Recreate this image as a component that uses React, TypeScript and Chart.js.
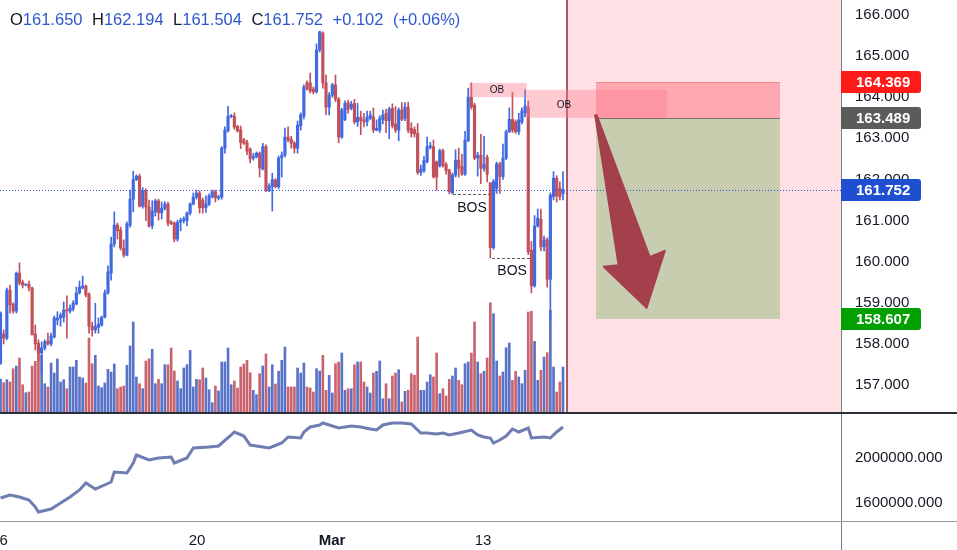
import React, { useEffect, useRef } from 'react';
import { Chart, registerables } from 'chart.js';

Chart.register(...registerables);

// ---- candle data (4h bars, index 0..178) ----
const OPEN = [
  157.53, 158.24, 158.14, 159.31, 158.97, 158.80, 159.72, 159.50, 159.43, 159.45,
  159.36, 158.24, 158.02, 157.78, 157.90, 158.07, 158.00, 158.17, 158.58, 158.63,
  158.65, 158.83, 158.80, 158.85, 158.97, 159.24, 159.36, 159.41, 159.21, 158.43,
  158.34, 158.40, 158.46, 158.65, 159.24, 159.72, 160.43, 160.89, 160.77, 160.33,
  160.16, 160.89, 161.52, 162.00, 162.08, 161.35, 161.72, 161.33, 160.87, 161.21,
  161.48, 161.19, 161.30, 161.40, 160.96, 160.94, 160.55, 160.96, 161.00, 161.00,
  161.18, 161.40, 161.57, 161.67, 161.50, 161.31, 161.40, 161.57, 161.70, 161.55,
  161.57, 162.76, 163.18, 163.53, 163.54, 163.29, 163.20, 162.96, 162.90, 162.74,
  162.52, 162.55, 162.64, 162.25, 162.80, 161.74, 161.82, 161.99, 161.82, 162.52,
  162.59, 163.03, 162.98, 162.88, 162.76, 163.30, 163.54, 164.35, 164.35, 164.20,
  164.13, 165.15, 165.56, 164.35, 163.76, 164.05, 164.30, 163.95, 163.03, 163.46,
  163.87, 163.73, 163.85, 163.40, 163.51, 163.45, 163.40, 163.49, 163.52, 163.20,
  163.20, 163.46, 163.61, 163.43, 163.73, 163.35, 163.20, 163.69, 163.49, 163.76,
  163.24, 163.21, 163.12, 162.17, 162.21, 162.43, 162.78, 162.80, 162.43, 162.33,
  162.70, 162.37, 162.23, 161.67, 162.11, 162.47, 162.32, 162.13, 162.94, 164.00,
  163.81, 162.52, 162.59, 162.27, 162.54, 161.92, 160.34, 161.78, 162.38, 162.07,
  162.52, 163.16, 163.46, 163.40, 163.16, 163.40, 163.62, 163.75, 160.28, 159.41,
  160.87, 161.03, 160.36, 160.53, 159.57, 161.58, 162.03, 161.79, 161.65,
];
const HIGH = [
  158.78, 158.34, 159.36, 159.43, 159.00, 159.75, 159.97, 159.55, 159.46, 159.53,
  159.38, 158.46, 158.10, 158.05, 158.10, 158.26, 158.26, 158.68, 158.78, 158.75,
  159.02, 159.17, 158.95, 159.05, 159.38, 159.53, 159.65, 159.43, 159.24, 158.53,
  158.99, 158.63, 158.68, 159.31, 159.90, 160.60, 161.21, 160.94, 160.84, 160.53,
  160.97, 161.74, 162.20, 162.11, 162.13, 161.80, 161.77, 161.50, 161.48, 161.52,
  161.52, 161.45, 161.46, 161.45, 161.00, 160.97, 161.01, 161.06, 161.09, 161.21,
  161.43, 161.67, 161.74, 161.72, 161.55, 161.60, 161.65, 161.74, 161.74, 161.62,
  162.80, 163.28, 163.78, 163.58, 163.62, 163.32, 163.30, 163.00, 162.96, 162.77,
  162.64, 162.67, 162.67, 162.88, 162.84, 161.90, 162.15, 162.02, 162.57, 162.67,
  163.25, 163.28, 163.05, 162.93, 163.42, 163.62, 164.30, 164.40, 164.59, 164.25,
  165.30, 165.61, 165.59, 164.54, 164.11, 164.34, 164.54, 164.00, 163.73, 163.91,
  163.93, 163.90, 163.95, 163.85, 163.66, 163.61, 163.66, 163.66, 163.74, 163.45,
  163.55, 163.69, 163.71, 163.76, 163.84, 163.77, 163.74, 163.87, 163.87, 163.88,
  163.38, 163.28, 163.36, 162.35, 162.56, 163.03, 162.90, 162.96, 162.45, 162.74,
  162.74, 162.41, 162.25, 162.16, 162.72, 162.76, 162.61, 163.17, 164.22, 164.35,
  163.86, 162.66, 163.10, 163.05, 162.59, 161.92, 162.00, 162.42, 162.42, 162.86,
  163.20, 163.74, 164.12, 163.45, 163.61, 163.74, 164.18, 163.91, 160.49, 161.12,
  161.28, 161.28, 160.62, 160.58, 161.67, 162.19, 162.09, 161.94, 162.194,
];
const LOW = [
  157.50, 158.00, 158.10, 158.75, 158.75, 158.75, 159.43, 159.36, 159.41, 159.29,
  158.22, 157.85, 157.56, 157.29, 157.85, 157.97, 157.95, 158.14, 158.46, 158.43,
  158.53, 158.14, 158.75, 158.80, 158.95, 159.21, 159.34, 159.14, 158.26, 158.19,
  158.26, 158.26, 158.43, 158.63, 159.21, 159.55, 160.36, 160.55, 160.28, 160.11,
  160.14, 160.84, 161.21, 161.97, 161.33, 161.30, 161.00, 160.84, 160.80, 161.11,
  161.01, 161.04, 161.26, 160.87, 160.90, 160.48, 160.50, 160.75, 160.94, 160.87,
  161.14, 161.38, 161.52, 161.18, 161.18, 161.20, 161.36, 161.55, 161.45, 161.50,
  161.52, 162.64, 163.15, 163.50, 163.22, 163.15, 162.75, 162.85, 162.60, 162.40,
  162.47, 162.52, 162.06, 162.23, 161.70, 161.70, 161.23, 161.80, 161.77, 162.06,
  162.55, 162.91, 162.76, 162.64, 162.64, 163.20, 163.47, 164.17, 164.10, 164.08,
  164.10, 165.10, 164.22, 163.57, 163.57, 164.00, 163.89, 162.89, 163.00, 163.43,
  163.61, 163.69, 163.35, 163.29, 163.09, 163.28, 163.30, 163.45, 163.14, 163.18,
  163.14, 163.35, 163.14, 162.99, 163.25, 163.14, 162.94, 163.43, 163.43, 163.14,
  163.03, 163.03, 162.12, 162.10, 162.17, 162.40, 162.74, 162.03, 161.74, 162.30,
  162.30, 162.13, 161.65, 161.65, 162.06, 162.06, 162.10, 162.10, 162.92, 163.71,
  162.48, 162.08, 161.90, 162.20, 161.94, 160.09, 160.30, 161.66, 161.66, 162.00,
  162.48, 163.14, 163.14, 163.12, 163.09, 163.35, 163.52, 160.17, 159.24, 159.38,
  160.84, 160.26, 160.26, 159.38, 158.58, 161.50, 161.45, 161.50, 161.504,
];
const CLOSE = [
  158.75, 158.14, 159.31, 158.95, 158.80, 159.72, 159.48, 159.43, 159.44, 159.36,
  158.22, 158.00, 157.78, 157.90, 158.05, 158.00, 158.19, 158.63, 158.63, 158.70,
  158.82, 158.80, 158.87, 158.99, 159.24, 159.38, 159.41, 159.19, 158.43, 158.34,
  158.43, 158.48, 158.65, 159.24, 159.75, 160.43, 160.89, 160.75, 160.33, 160.16,
  160.92, 161.52, 162.00, 162.08, 161.35, 161.72, 161.33, 160.87, 161.23, 161.48,
  161.19, 161.30, 161.40, 160.94, 160.92, 160.55, 160.96, 161.01, 161.04, 161.18,
  161.40, 161.57, 161.67, 161.31, 161.31, 161.40, 161.60, 161.70, 161.55, 161.57,
  162.76, 163.20, 163.54, 163.55, 163.27, 163.18, 162.90, 162.88, 162.69, 162.50,
  162.56, 162.64, 162.28, 162.80, 161.74, 161.84, 161.99, 161.82, 162.52, 162.59,
  163.03, 162.96, 162.88, 162.76, 163.32, 163.57, 164.25, 164.20, 164.15, 164.13,
  165.15, 165.59, 164.35, 163.76, 164.05, 164.30, 163.95, 163.03, 163.69, 163.85,
  163.71, 163.83, 163.40, 163.51, 163.43, 163.40, 163.52, 163.57, 163.20, 163.24,
  163.49, 163.57, 163.43, 163.71, 163.30, 163.20, 163.69, 163.46, 163.76, 163.20,
  163.12, 163.11, 162.17, 162.25, 162.46, 162.80, 162.82, 162.06, 162.06, 162.70,
  162.33, 162.21, 161.70, 162.11, 162.47, 162.27, 162.13, 162.96, 164.00, 163.76,
  162.52, 162.59, 162.27, 162.37, 162.13, 160.34, 161.95, 162.38, 162.07, 162.52,
  163.16, 163.46, 163.20, 163.16, 163.45, 163.67, 163.79, 160.24, 159.41, 160.87,
  161.06, 160.36, 160.53, 159.57, 161.62, 162.03, 161.60, 161.58, 161.752,
];
const VOLUME = [
  3300, 2930, 3230, 3000, 4330, 4600, 5400, 2730, 1930, 2000,
  4600, 5070, 6600, 5670, 2830, 2500, 4900, 3900, 5300, 3000,
  3230, 2330, 4500, 4500, 5170, 3500, 3400, 2900, 7400, 4830,
  5670, 2600, 2430, 2900, 4270, 4000, 4800, 2330, 2500, 2600,
  4670, 6600, 9000, 3500, 2830, 2330, 5100, 5330, 6270, 2830,
  3270, 2830, 4730, 4730, 6400, 4100, 3100, 2330, 4400, 4730,
  6170, 2500, 3270, 3230, 4400, 3400, 2230, 930, 2600, 2100,
  5000, 5000, 6400, 2730, 3100, 2400, 4500, 4800, 5170, 3930,
  2170, 1730, 3830, 4600, 5800, 2500, 4730, 2800, 4070, 5170,
  6500, 2500, 2500, 2500, 4400, 3900, 4900, 2500, 2400, 2000,
  4330, 4100, 5670, 2170, 3670, 1900, 4830, 5000, 5900, 2170,
  2330, 2330, 4730, 5000, 5000, 3000, 2500, 1900, 3900, 4070,
  5100, 1330, 2830, 1330, 3600, 3900, 4230, 1000, 2070, 2170,
  3830, 3670, 7500, 2170, 2170, 3000, 3730, 3500, 5900, 1830,
  2330, 1600, 3270, 3600, 4400, 3170, 2730, 4830, 5000, 5900,
  9000, 5000, 3830, 4070, 5400, 10930, 9830, 5100, 3600, 4000,
  6430, 6900, 3170, 4070, 3500, 2830, 4170, 10000, 10070, 7070,
  3170, 4170, 5500, 5930, 10170, 4500, 2000, 3000, 4500,
];

// ---- lower pane indicator (sampled) ----
const IND_K = [
  0, 3, 6, 9, 11, 12, 16, 19, 22, 25, 27, 30, 35, 36, 40, 42, 43, 47, 50, 54,
  55, 59, 61, 66, 69, 73, 74, 77, 79, 83, 85, 89, 91, 95, 96, 98, 101, 102, 104, 107,
  111, 114, 117, 119, 121, 124, 127, 130, 133, 135, 138, 140, 142, 145, 149, 151, 153, 155, 156, 158,
  160, 162, 164, 167, 168, 172, 174, 176, 178,
];
const IND_V = [
  1640000, 1666700, 1648900, 1622200, 1560000, 1515600, 1542200, 1595600, 1648900, 1711100,
  1773300, 1720000, 1782200, 1871100, 1862200, 1951100, 2022200, 1977800, 1995600, 2004400,
  1951100, 1995600, 2084400, 2093300, 2102200, 2200000, 2226700, 2191100, 2111100, 2093300,
  2084400, 2128900, 2182200, 2173300, 2226700, 2271100, 2288900, 2306700, 2288900, 2262200,
  2280000, 2271100, 2253300, 2244400, 2288900, 2306700, 2306700, 2297800, 2217800, 2217800,
  2208900, 2217800, 2200000, 2217800, 2244400, 2200000, 2182200, 2173300, 2128900, 2155600,
  2191100, 2253300, 2226700, 2262200, 2173300, 2182200, 2173300, 2226700, 2271100,
];

// ---- axes ----
const X_MIN = -0.165;
const X_MAX = 265.97;
const PRICE_MIN = 156.343;
const PRICE_MAX = 166.365;
const PRICE_TICKS = [157, 158, 159, 160, 161, 162, 163, 164, 165, 166];
const VOL_MAX = 41200;
const IND_MIN = 1435550;
const IND_MAX = 2386700;
const IND_TICKS = [1600000, 2000000];
const TIME_TICK_POS = [1.0, 62.2, 104.9, 152.7];
const TIME_TICK_LABELS = ['6', '20', 'Mar', '13'];

// ---- header ----
const HEADER_LABELS = ['O', 'H', 'L', 'C'];
const HEADER_VALUES = ['161.650', '162.194', '161.504', '161.752'];
const HEADER_CHANGE = '+0.102';
const HEADER_PCT = '(+0.06%)';

// ---- price tags ----
const LAST_PRICE = 161.752;
const TAG_PRICES = [164.369, 163.489, 161.752, 158.607];
const TAG_COLORS = ['#ff1a1a', '#5b5b5b', '#1f4ed0', '#00a000'];

// ---- drawings ----
const ZONE_START = 179.27;
const OB_K_START = [148.3, 166.6];
const OB_K_END = [166.6, 210.9];
const OB_TOP = [164.35, 164.18];
const OB_BOTTOM = [164.0, 163.5];
const OB_TEXT_K = [157.1, 178.3];
const OB_TEXT_P = [164.175, 163.81];
const POS_K = [188.44, 246.67];
const STOP = 164.369;
const ENTRY = 163.489;
const TARGET = 158.607;
const BOS_K_START = [143.2, 155.5];
const BOS_K_END = [155.5, 167.6];
const BOS_LEVEL = [161.65, 160.09];
const BOS_TEXT_K = [149.2, 161.9];
const BOS_TEXT_P = [161.3, 159.77];
const ARROW_K = [188.1, 195.5, 190.8, 204.5, 210.3, 205.5, 188.7];
const ARROW_P = [163.57, 159.92, 159.88, 158.87, 160.27, 160.12, 163.57];

const UP = '#4169e1';
const DOWN = '#c2505b';
const VOL_UP = '#5873c8';
const VOL_DOWN = '#c9646f';
const FONT = '"Liberation Sans", Arial, sans-serif';
const TEXT = '#131722';
const AXIS_LINE = '#787b86';

function noPad(s: any) {
  s.paddingTop = 0;
  s.paddingBottom = 0;
  s.paddingLeft = 0;
  s.paddingRight = 0;
}

function mainPlugin() {
  return {
    id: 'mainDecor',
    beforeDatasetsDraw(chart: any) {
      const { ctx, chartArea: a, scales } = chart;
      const x = scales.x;
      ctx.save();
      const zx = x.getPixelForValue(ZONE_START);
      ctx.fillStyle = '#ffe1e5';
      ctx.fillRect(zx, a.top, a.right - zx, a.bottom - a.top);
      ctx.fillStyle = '#a95a66';
      ctx.fillRect(Math.round(zx) - 1, a.top, 2, a.bottom - a.top);
      ctx.restore();
    },
    afterDatasetsDraw(chart: any) {
      const { ctx, chartArea: a, scales } = chart;
      const x = scales.x;
      const y = scales.y;
      const px = (k: number) => x.getPixelForValue(k);
      const py = (p: number) => y.getPixelForValue(p);
      ctx.save();
      ctx.beginPath();
      ctx.rect(a.left, a.top, a.right - a.left, a.bottom - a.top);
      ctx.clip();
      const x0 = px(POS_K[0]);
      const x1 = px(POS_K[1]);
      ctx.fillStyle = '#c9cdb0';
      ctx.fillRect(x0, py(ENTRY), x1 - x0, py(TARGET) - py(ENTRY));
      ctx.fillStyle = 'rgba(255,100,112,0.45)';
      ctx.fillRect(x0, py(STOP), x1 - x0, py(ENTRY) - py(STOP));
      for (let i = 0; i < OB_K_START.length; i++) {
        const bx0 = px(OB_K_START[i]);
        const bx1 = px(OB_K_END[i]);
        ctx.fillStyle = 'rgba(250,122,140,0.4)';
        ctx.fillRect(bx0, py(OB_TOP[i]), bx1 - bx0, py(OB_BOTTOM[i]) - py(OB_TOP[i]));
      }
      ctx.lineWidth = 1;
      ctx.strokeStyle = '#ef8a8a';
      ctx.beginPath();
      ctx.moveTo(x0, Math.round(py(STOP)) + 0.5);
      ctx.lineTo(x1, Math.round(py(STOP)) + 0.5);
      ctx.stroke();
      ctx.strokeStyle = '#7d6f6f';
      ctx.beginPath();
      ctx.moveTo(x0, Math.round(py(ENTRY)) + 0.5);
      ctx.lineTo(x1, Math.round(py(ENTRY)) + 0.5);
      ctx.stroke();
      ctx.strokeStyle = '#3655cc';
      ctx.setLineDash([1, 2]);
      const ly = Math.round(py(LAST_PRICE)) + 0.5;
      ctx.beginPath();
      ctx.moveTo(a.left, ly);
      ctx.lineTo(a.right, ly);
      ctx.stroke();
      ctx.strokeStyle = '#5d5d5d';
      ctx.setLineDash([3, 2]);
      for (let i = 0; i < BOS_LEVEL.length; i++) {
        const yy = Math.round(py(BOS_LEVEL[i])) + 0.5;
        ctx.beginPath();
        ctx.moveTo(px(BOS_K_START[i]), yy);
        ctx.lineTo(px(BOS_K_END[i]), yy);
        ctx.stroke();
      }
      ctx.setLineDash([]);
      ctx.fillStyle = TEXT;
      ctx.textAlign = 'center';
      ctx.textBaseline = 'middle';
      ctx.font = `14px ${FONT}`;
      for (let i = 0; i < BOS_TEXT_K.length; i++) {
        ctx.fillText('BOS', px(BOS_TEXT_K[i]), py(BOS_TEXT_P[i]));
      }
      ctx.font = `10px ${FONT}`;
      for (let i = 0; i < OB_TEXT_K.length; i++) {
        ctx.fillText('OB', px(OB_TEXT_K[i]), py(OB_TEXT_P[i]));
      }
      ctx.fillStyle = '#a3404b';
      ctx.strokeStyle = '#a3404b';
      ctx.lineJoin = 'round';
      ctx.lineWidth = 1.5;
      ctx.beginPath();
      for (let i = 0; i < ARROW_K.length; i++) {
        const ax = px(ARROW_K[i]);
        const ay = py(ARROW_P[i]);
        if (i === 0) ctx.moveTo(ax, ay);
        else ctx.lineTo(ax, ay);
      }
      ctx.closePath();
      ctx.fill();
      ctx.stroke();
      ctx.restore();
    },
    afterDraw(chart: any) {
      const { ctx, chartArea: a, scales, width, height } = chart;
      const y = scales.y;
      ctx.save();
      ctx.fillStyle = AXIS_LINE;
      ctx.fillRect(a.right, 0, 1, height);
      ctx.fillStyle = '#2a2e39';
      ctx.fillRect(0, height - 2, width, 2);
      for (let i = 0; i < TAG_PRICES.length; i++) {
        const yy = Math.round(y.getPixelForValue(TAG_PRICES[i]));
        ctx.fillStyle = TAG_COLORS[i];
        ctx.beginPath();
        (ctx as any).roundRect(a.right, yy - 11, 80, 22, [0, 3, 3, 0]);
        ctx.fill();
        ctx.fillStyle = '#ffffff';
        ctx.font = `bold 15px ${FONT}`;
        ctx.textAlign = 'left';
        ctx.textBaseline = 'middle';
        ctx.fillText(TAG_PRICES[i].toFixed(3), a.right + 15, yy + 1);
      }
      ctx.restore();
    },
  };
}

function lowerPlugin() {
  return {
    id: 'lowerDecor',
    afterDraw(chart: any) {
      const { ctx, chartArea: a, width, height } = chart;
      ctx.save();
      ctx.fillStyle = AXIS_LINE;
      ctx.fillRect(a.right, 0, 1, height);
      ctx.fillStyle = '#9598a1';
      ctx.fillRect(0, a.bottom, width, 1);
      ctx.restore();
    },
  };
}

export default function App() {
  const mainRef = useRef<HTMLCanvasElement>(null);
  const lowerRef = useRef<HTMLCanvasElement>(null);

  useEffect(() => {
    document.body.style.margin = '0';
    Chart.defaults.font.family = FONT;
    const idx = OPEN.map((_, i) => i);
    const up = idx.map((i) => CLOSE[i] >= OPEN[i]);

    const main = new Chart(mainRef.current as HTMLCanvasElement, {
      type: 'bar',
      data: {
        datasets: [
          {
            label: 'body',
            data: idx.map((i) => ({ x: i, y: [OPEN[i], CLOSE[i]] })) as any,
            backgroundColor: idx.map((i) => (up[i] ? UP : DOWN)),
            barThickness: 2.5,
            minBarLength: 1,
            grouped: false,
            yAxisID: 'y',
          } as any,
          {
            label: 'wick',
            data: idx.map((i) => ({ x: i, y: [LOW[i], HIGH[i]] })) as any,
            backgroundColor: idx.map((i) => (up[i] ? UP : DOWN)),
            barThickness: 1,
            grouped: false,
            yAxisID: 'y',
          } as any,
          {
            label: 'volume',
            data: idx.map((i) => ({ x: i, y: VOLUME[i] })) as any,
            backgroundColor: idx.map((i) => (up[i] ? VOL_UP : VOL_DOWN)),
            barThickness: 2,
            grouped: false,
            yAxisID: 'yVol',
          } as any,
        ],
      },
      options: {
        responsive: false,
        animation: false,
        events: [],
        layout: { padding: { top: 0, bottom: 2, left: 0, right: 0 } },
        plugins: { legend: { display: false }, tooltip: { enabled: false } },
        scales: {
          x: { type: 'linear', min: X_MIN, max: X_MAX, display: false, offset: false },
          y: {
            type: 'linear',
            position: 'right',
            min: PRICE_MIN,
            max: PRICE_MAX,
            grid: { display: false, drawTicks: false },
            border: { display: false },
            ticks: {
              color: TEXT,
              font: { size: 15, family: FONT },
              padding: 14,
              callback: (v: any) => Number(v).toFixed(3),
            },
            afterBuildTicks: (s: any) => {
              s.ticks = PRICE_TICKS.map((v) => ({ value: v }));
            },
            afterFit: (s: any) => {
              s.width = 116;
              noPad(s);
            },
          },
          yVol: { type: 'linear', display: false, min: 0, max: VOL_MAX },
        },
      } as any,
      plugins: [mainPlugin()],
    });

    const lower = new Chart(lowerRef.current as HTMLCanvasElement, {
      type: 'line',
      data: {
        datasets: [
          {
            label: 'indicator',
            data: IND_K.map((k, i) => ({ x: k, y: IND_V[i] })),
            borderColor: '#6f7db3',
            borderWidth: 3,
            pointRadius: 0,
            tension: 0,
          },
        ],
      },
      options: {
        responsive: false,
        animation: false,
        events: [],
        layout: { padding: 0 },
        plugins: { legend: { display: false }, tooltip: { enabled: false } },
        scales: {
          x: {
            type: 'linear',
            min: X_MIN,
            max: X_MAX,
            grid: { display: false, drawTicks: false },
            border: { display: false },
            ticks: {
              autoSkip: false,
              maxRotation: 0,
              padding: 11,
              color: TEXT,
              font: (c: any) => ({
                size: 15,
                family: FONT,
                weight: TIME_TICK_LABELS[c.index] === 'Mar' ? 'bold' : 'normal',
              }),
              callback: (_v: any, i: number) => TIME_TICK_LABELS[i],
            },
            afterBuildTicks: (s: any) => {
              s.ticks = TIME_TICK_POS.map((v) => ({ value: v }));
            },
            afterFit: (s: any) => {
              s.height = 29;
              noPad(s);
            },
          },
          y: {
            type: 'linear',
            position: 'right',
            min: IND_MIN,
            max: IND_MAX,
            grid: { display: false, drawTicks: false },
            border: { display: false },
            ticks: {
              color: TEXT,
              font: { size: 15, family: FONT },
              padding: 14,
              callback: (v: any) => Number(v).toFixed(3),
            },
            afterBuildTicks: (s: any) => {
              s.ticks = IND_TICKS.map((v) => ({ value: v }));
            },
            afterFit: (s: any) => {
              s.width = 116;
              noPad(s);
            },
          },
        },
      } as any,
      plugins: [lowerPlugin()],
    });

    return () => {
      main.destroy();
      lower.destroy();
    };
  }, []);

  const valueStyle = { color: '#2f57cc', marginRight: 9.5 };
  return (
    <div style={{ position: 'absolute', left: 0, top: 0, width: 957, height: 550, background: '#ffffff', overflow: 'hidden' }}>
      <canvas ref={mainRef} width={957} height={414} style={{ position: 'absolute', left: 0, top: 0, width: 957, height: 414 }} />
      <canvas ref={lowerRef} width={957} height={136} style={{ position: 'absolute', left: 0, top: 414, width: 957, height: 136 }} />
      <div
        style={{
          position: 'absolute',
          left: 10,
          top: 10,
          fontFamily: FONT,
          fontSize: 16.5,
          lineHeight: '19px',
          whiteSpace: 'nowrap',
          color: TEXT,
        }}
      >
        {HEADER_LABELS.map((l, i) => (
          <span key={l}>
            <span>{l}</span>
            <span style={valueStyle}>{HEADER_VALUES[i]}</span>
          </span>
        ))}
        <span style={valueStyle}>{HEADER_CHANGE}</span>
        <span style={{ color: '#2f57cc' }}>{HEADER_PCT}</span>
      </div>
    </div>
  );
}
